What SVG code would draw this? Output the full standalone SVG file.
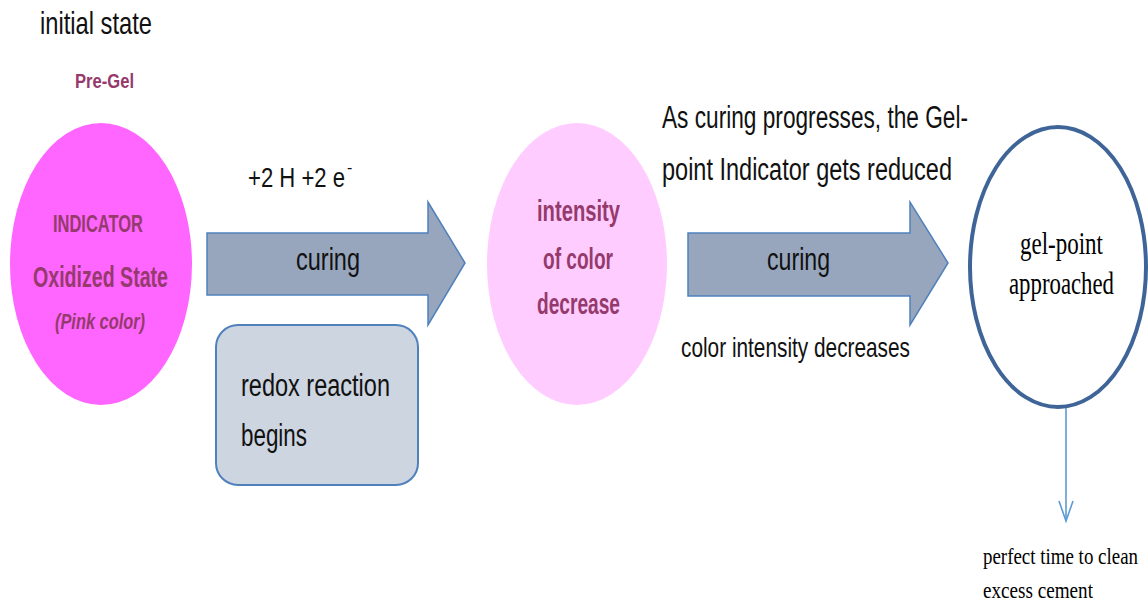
<svg xmlns="http://www.w3.org/2000/svg" width="1148" height="607" viewBox="0 0 1148 607">
  <defs>
    <style>
      .sans { font-family: "Liberation Sans", Arial, sans-serif; }
      .serif { font-family: "Liberation Serif", "Times New Roman", serif; fill: #000; }
      .dark { fill: #111; }
      .maroon { fill: #953a6c; font-weight: bold; }
      .arrow { fill: #97a6bd; stroke: #4f81bd; stroke-width: 1.5; }
      .link { fill: none; stroke: #5b9bd5; stroke-width: 1.6; }
    </style>
  </defs>

  <rect width="1148" height="607" fill="#fff"/>

  <!-- heading -->
  <text class="sans dark" x="40" y="34" font-size="32" textLength="112" lengthAdjust="spacingAndGlyphs">initial state</text>
  <text class="sans maroon" x="75" y="88" font-size="21" textLength="59" lengthAdjust="spacingAndGlyphs">Pre-Gel</text>

  <!-- oxidized indicator -->
  <g id="node-indicator">
    <ellipse cx="101" cy="264" rx="91" ry="141" fill="#ff66ff"/>
    <text class="sans maroon" x="53" y="232" font-size="23" textLength="90" lengthAdjust="spacingAndGlyphs">INDICATOR</text>
    <text class="sans maroon" x="33" y="287" font-size="29" textLength="135" lengthAdjust="spacingAndGlyphs">Oxidized State</text>
    <text class="sans maroon" x="55" y="329" font-size="22" font-style="italic" textLength="90" lengthAdjust="spacingAndGlyphs">(Pink color)</text>
  </g>

  <!-- first curing step -->
  <g id="node-curing-1">
    <path class="arrow" d="M207,233 H428 V202 L465,263 L428,325 V295 H207 Z"/>
    <text class="sans dark" x="296" y="270" font-size="31" textLength="64" lengthAdjust="spacingAndGlyphs">curing</text>
  </g>
  <text class="sans dark" x="248" y="187" font-size="28"><tspan textLength="97" lengthAdjust="spacingAndGlyphs">+2 H +2 e</tspan><tspan dx="2" dy="-14" font-size="16">-</tspan></text>

  <g id="node-redox">
    <rect x="216" y="325" width="202" height="160" rx="22" fill="#cdd5e0" stroke="#4f81bd" stroke-width="2"/>
    <text class="sans dark" x="241" y="396" font-size="31" textLength="149" lengthAdjust="spacingAndGlyphs">redox reaction</text>
    <text class="sans dark" x="241" y="446" font-size="31" textLength="66" lengthAdjust="spacingAndGlyphs">begins</text>
  </g>

  <!-- intensity decrease -->
  <g id="node-intensity">
    <ellipse cx="577" cy="264" rx="90" ry="141" fill="#ffccff"/>
    <text class="sans maroon" x="537" y="221" font-size="29" textLength="83" lengthAdjust="spacingAndGlyphs">intensity</text>
    <text class="sans maroon" x="543" y="269" font-size="29" textLength="70" lengthAdjust="spacingAndGlyphs">of color</text>
    <text class="sans maroon" x="537" y="314" font-size="29" textLength="83" lengthAdjust="spacingAndGlyphs">decrease</text>
  </g>

  <text class="sans dark" x="662" y="128" font-size="31" textLength="306" lengthAdjust="spacingAndGlyphs">As curing progresses, the Gel-</text>
  <text class="sans dark" x="662" y="180" font-size="31" textLength="290" lengthAdjust="spacingAndGlyphs">point Indicator gets reduced</text>

  <!-- second curing step -->
  <g id="node-curing-2">
    <path class="arrow" d="M688,233 H910 V202 L948,263 L910,325 V296 H688 Z"/>
    <text class="sans dark" x="767" y="270" font-size="31" textLength="63" lengthAdjust="spacingAndGlyphs">curing</text>
  </g>
  <text class="sans dark" x="681" y="357" font-size="28" textLength="229" lengthAdjust="spacingAndGlyphs">color intensity decreases</text>

  <!-- gel point -->
  <g id="node-gel-point">
    <ellipse cx="1058" cy="267" rx="88" ry="140" fill="#fff" stroke="#3f6598" stroke-width="4"/>
    <text class="serif" x="1020" y="254" font-size="32" textLength="83" lengthAdjust="spacingAndGlyphs">gel-point</text>
    <text class="serif" x="1009" y="294" font-size="32" textLength="105" lengthAdjust="spacingAndGlyphs">approached</text>
  </g>

  <g id="connectors">
    <line class="link" x1="1066" y1="408" x2="1066" y2="521"/>
    <path class="link" d="M1059,501 L1066,521 L1073,501"/>
  </g>

  <g id="node-clean">
    <text class="serif" x="983" y="564" font-size="24" textLength="155" lengthAdjust="spacingAndGlyphs">perfect time to clean</text>
    <text class="serif" x="983" y="598" font-size="24" textLength="110" lengthAdjust="spacingAndGlyphs">excess cement</text>
  </g>
</svg>
